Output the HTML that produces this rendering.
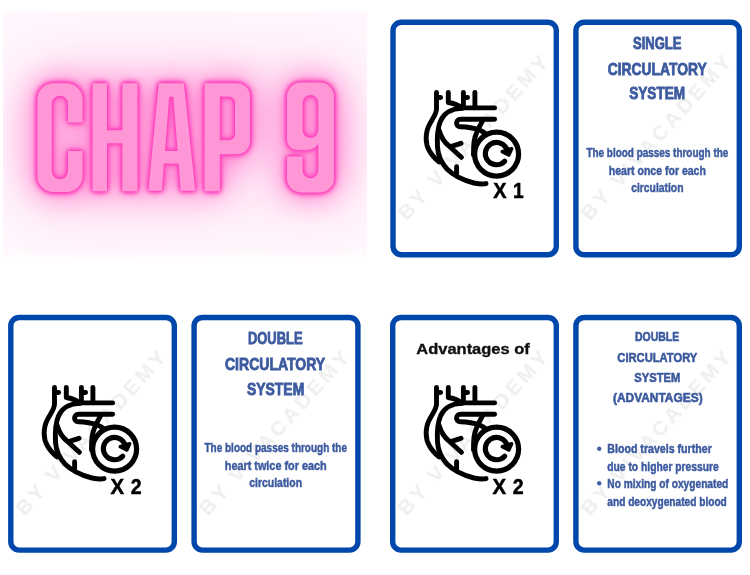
<!DOCTYPE html>
<html><head><meta charset="utf-8">
<style>
html,body{margin:0;padding:0;background:#fff;width:750px;height:575px;overflow:hidden}
svg{display:block}
svg text{will-change:transform}
text{font-family:"Liberation Sans",sans-serif}
</style></head>
<body>
<svg width="750" height="575" viewBox="0 0 750 575">
<defs>
  <filter id="bigblur" x="-50%" y="-50%" width="200%" height="200%"><feGaussianBlur stdDeviation="16"/></filter>
  <filter id="midblur" x="-50%" y="-50%" width="200%" height="200%"><feGaussianBlur stdDeviation="4"/></filter>
  <filter id="smblur" x="-20%" y="-20%" width="140%" height="140%"><feGaussianBlur stdDeviation="0.6"/></filter>
  <path id="letters" fill-rule="evenodd" d="
    M53.4,83.2 H66.6 A16,16 0 0 1 82.6,99.2 V122.6 H68 V103.85 A8.15,8.15 0 0 0 51.7,103.85 V171.15 A8.15,8.15 0 0 0 68,171.15 V151.1 H82.6 V176 A16,16 0 0 1 66.6,192 H53.4 A16,16 0 0 1 37.4,176 V99.2 A16,16 0 0 1 53.4,83.2 Z
    M92.6,83.3 H107 V130.2 H122.4 V83.3 H137.4 V191.3 H122.4 V143.2 H107 V191.3 H92.6 Z
    M158.8,83.2 H183.8 L195.3,190.7 H180.7 L178.8,163.6 H163.8 L161.9,190.7 H148.4 Z M169.2,96.8 H173.4 L177.6,151 H165 Z
    M204.6,83.3 H237 A13,13 0 0 1 250,96.3 V141.3 A13,13 0 0 1 237,154.3 H219.8 V191.3 H204.6 Z M219.8,96.5 H229 A6,6 0 0 1 235,102.5 V134.2 A6,6 0 0 1 229,140.2 H219.8 Z
    M301,82.6 H320 A14,14 0 0 1 334,96.6 V178.4 A14,14 0 0 1 320,192.4 H301 A14,14 0 0 1 287,178.4 V156.5 H302.6 V170.4 A7.85,7.85 0 0 0 318.3,170.4 V143.5 Q315,150 306,150 H297 A10,10 0 0 1 287,140 V96.6 A14,14 0 0 1 301,82.6 Z M302.6,102.85 A7.85,7.85 0 0 1 318.3,102.85 V130.15 A7.85,7.85 0 0 1 302.6,130.15 Z
  "/>
  <g id="heart" fill="none" stroke="#000" stroke-width="4.9" stroke-linecap="round" stroke-linejoin="round">
    <path d="M436.5,92.4 V109 C436.5,116 429,122 427,131 C425.5,138 426.5,146 429.5,151 C432,155.5 435,158.5 439,162"/>
    <path d="M436.5,97.5 H440.6"/>
    <path d="M448.3,92.4 V102.5 C452,103 458,105 462,108"/>
    <path d="M463.4,92.4 V107.9 M463.4,97.5 H467.6"/>
    <path d="M474.9,92.4 V107.9"/>
    <path d="M458,107.9 H494.6"/>
    <path d="M462,108.4 C452,108.6 444,113 440.5,121 C437.5,128 437,138 437.5,147 C438,156 441.5,163 447,169 C454,176 464,180.5 474,183 C479,184 483,184.2 486,183.6"/>
    <path d="M439,130 C441,137 444.5,142.5 449,146 C453,149.5 457.5,154 461.5,157.3 M450.5,146.8 C453.5,145.5 457.5,144.8 461,143.3"/>
    <path d="M456.6,166.8 V174"/>
    <path d="M494.6,119.2 H460.5 C455.5,119.2 455,126.8 460.5,126.8 C467,127 474,128 479,129.8 C482,131 484.5,132.5 486.5,134.5"/>
    <path d="M482.5,121 C479,127 475,134 474,142 C473.6,146 473.5,150 473.5,155"/>
    
    <circle cx="496.6" cy="154.1" r="22" fill="#fff" stroke-width="5.2"/>
    <path d="M506.4,148.3 A11.2,11.2 0 1 0 504.7,161.2" stroke-width="5.1"/>
    <path d="M502.3,151.6 L511.6,148.8 L508.8,155 Z" fill="#000" stroke-width="3.6"/>
  </g>
<g id="wmk"><text x="0" y="0" transform="translate(16.5,202) rotate(-48)" font-size="21" font-weight="bold" fill="#efefef" textLength="213" lengthAdjust="spacing">BY VIVACADEMY</text></g>
</defs>

<!-- neon panel -->
<clipPath id="clipNeon"><rect x="3" y="11" width="364" height="252"/></clipPath>
<filter id="glow" x="-40%" y="-80%" width="180%" height="260%" color-interpolation-filters="sRGB">
  <feGaussianBlur in="SourceAlpha" stdDeviation="40" result="b0"/>
  <feComponentTransfer in="b0" result="b0a"><feFuncA type="linear" slope="1.6"/></feComponentTransfer>
  <feFlood flood-color="#ffb3e2"/><feComposite in2="b0a" operator="in" result="g0"/>
  <feGaussianBlur in="SourceAlpha" stdDeviation="17" result="b1"/>
  <feComponentTransfer in="b1" result="b1a"><feFuncA type="linear" slope="2.3"/></feComponentTransfer>
  <feFlood flood-color="#ff9ad8"/><feComposite in2="b1a" operator="in" result="g1"/>
  <feGaussianBlur in="SourceAlpha" stdDeviation="4.5" result="b2"/>
  <feComponentTransfer in="b2" result="b2a"><feFuncA type="linear" slope="2.2"/></feComponentTransfer>
  <feFlood flood-color="#ff6cc9"/><feComposite in2="b2a" operator="in" result="g2"/>
  <feGaussianBlur in="SourceAlpha" stdDeviation="1.9" result="b3"/>
  <feComponentTransfer in="b3" result="b3a"><feFuncA type="linear" slope="2.4"/></feComponentTransfer>
  <feFlood flood-color="#ff48bf"/><feComposite in2="b3a" operator="in" result="g3"/>
  <feMerge><feMergeNode in="g0"/><feMergeNode in="g1"/><feMergeNode in="g2"/><feMergeNode in="g3"/></feMerge>
</filter>
<g clip-path="url(#clipNeon)">
<rect x="3" y="11" width="364" height="252" fill="#fff8fd"/>
<use href="#letters" filter="url(#glow)"/>
<use href="#letters" fill="#ff97d6" filter="url(#smblur)"/>
<linearGradient id="fadeB" x1="0" y1="0" x2="0" y2="1"><stop offset="0" stop-color="#fff" stop-opacity="0"/><stop offset="1" stop-color="#fff" stop-opacity="0.9"/></linearGradient>
<rect x="3" y="248" width="364" height="15" fill="url(#fadeB)"/>
</g>

<!-- cards -->
<g fill="#fff" stroke="#0047ab" stroke-width="5.4">
  <rect x="393.00" y="22.20" width="163.30" height="232.50" rx="8.4"/>
  <rect x="575.90" y="22.20" width="163.40" height="232.60" rx="8.4"/>
  <rect x="10.80" y="317.50" width="163.50" height="232.60" rx="8.4"/>
  <rect x="194.10" y="317.50" width="163.80" height="232.60" rx="8.4"/>
  <rect x="392.70" y="317.50" width="163.60" height="232.60" rx="8.4"/>
  <rect x="575.90" y="317.50" width="163.40" height="232.60" rx="8.4"/>
</g>

<!-- watermark -->
<use href="#wmk" transform="translate(390.3,19.5)"/>
<use href="#wmk" transform="translate(573.2,19.5)"/>
<use href="#wmk" transform="translate(8.1,314.8)"/>
<use href="#wmk" transform="translate(191.4,314.8)"/>
<use href="#wmk" transform="translate(390.0,314.8)"/>
<use href="#wmk" transform="translate(573.2,314.8)"/>
<!-- icons -->
<use href="#heart"/>
<use href="#heart" transform="translate(-382,295)"/>
<use href="#heart" transform="translate(0,295)"/>

<g font-weight="bold" fill="#000" stroke="#000" stroke-width="0.5" font-size="22.6">
  <text x="493.2" y="198.1" textLength="13.3" lengthAdjust="spacingAndGlyphs">X</text><text x="512.9" y="198.1" textLength="10.7" lengthAdjust="spacingAndGlyphs">1</text>
  <text x="110.5" y="493.6" textLength="13.6" lengthAdjust="spacingAndGlyphs">X</text><text x="130.8" y="493.6" textLength="10.9" lengthAdjust="spacingAndGlyphs">2</text>
  <text x="492.5" y="493.6" textLength="13.6" lengthAdjust="spacingAndGlyphs">X</text><text x="512.8" y="493.6" textLength="10.9" lengthAdjust="spacingAndGlyphs">2</text>
</g>
<text x="416.3" y="353.8" font-size="15.4" font-weight="bold" fill="#111" stroke="#111" stroke-width="0.35" textLength="113.5" lengthAdjust="spacingAndGlyphs">Advantages of</text>

<!-- titles -->
<g font-weight="bold" fill="#3c5a9f" stroke="#3c5a9f" stroke-width="0.8" text-anchor="middle" font-size="16.7">
  <text x="657.2" y="48.7" textLength="48.5" lengthAdjust="spacingAndGlyphs">SINGLE</text>
  <text x="657.2" y="74.8" textLength="99" lengthAdjust="spacingAndGlyphs">CIRCULATORY</text>
  <text x="657.2" y="99" textLength="56" lengthAdjust="spacingAndGlyphs">SYSTEM</text>
  <text x="275.3" y="344.4" textLength="54.8" lengthAdjust="spacingAndGlyphs">DOUBLE</text>
  <text x="275.1" y="370" textLength="100.2" lengthAdjust="spacingAndGlyphs">CIRCULATORY</text>
  <text x="275.6" y="395" textLength="57.3" lengthAdjust="spacingAndGlyphs">SYSTEM</text>
</g>
<g font-weight="bold" fill="#3c5a9f" stroke="#3c5a9f" stroke-width="0.6" text-anchor="middle" font-size="13.2">
  <text x="657.1" y="341.3" textLength="44.2" lengthAdjust="spacingAndGlyphs">DOUBLE</text>
  <text x="657.3" y="361.6" textLength="80" lengthAdjust="spacingAndGlyphs">CIRCULATORY</text>
  <text x="657.3" y="381.9" textLength="45.9" lengthAdjust="spacingAndGlyphs">SYSTEM</text>
  <text x="657.8" y="401.5" textLength="89.7" lengthAdjust="spacingAndGlyphs">(ADVANTAGES)</text>
</g>
<!-- body -->
<g font-weight="bold" fill="#3c5a9f" stroke="#3c5a9f" stroke-width="0.45" text-anchor="middle" font-size="12">
  <text x="657.35" y="157" textLength="141.9" lengthAdjust="spacingAndGlyphs">The blood passes through the</text>
  <text x="657.35" y="174.6" textLength="97.1" lengthAdjust="spacingAndGlyphs">heart once for each</text>
  <text x="657.35" y="191.8" textLength="52.3" lengthAdjust="spacingAndGlyphs">circulation</text>
  <text x="275.75" y="452" textLength="142.5" lengthAdjust="spacingAndGlyphs">The blood passes through the</text>
  <text x="275.7" y="469.6" textLength="101.8" lengthAdjust="spacingAndGlyphs">heart twice for each</text>
  <text x="275.65" y="486.8" textLength="52.7" lengthAdjust="spacingAndGlyphs">circulation</text>
</g>
<g font-weight="bold" fill="#3c5a9f" stroke="#3c5a9f" stroke-width="0.45" font-size="12">
  <circle cx="599.2" cy="448.8" r="2"/>
  <circle cx="599.2" cy="483.3" r="2"/>
  <text x="607.3" y="453" textLength="104.5" lengthAdjust="spacingAndGlyphs">Blood travels further</text>
  <text x="607.3" y="470.6" textLength="111.4" lengthAdjust="spacingAndGlyphs">due to higher pressure</text>
  <text x="607.3" y="488.2" textLength="121" lengthAdjust="spacingAndGlyphs">No mixing of oxygenated</text>
  <text x="607.3" y="505.6" textLength="119.5" lengthAdjust="spacingAndGlyphs">and deoxygenated blood</text>
</g>
</svg>
</body></html>
